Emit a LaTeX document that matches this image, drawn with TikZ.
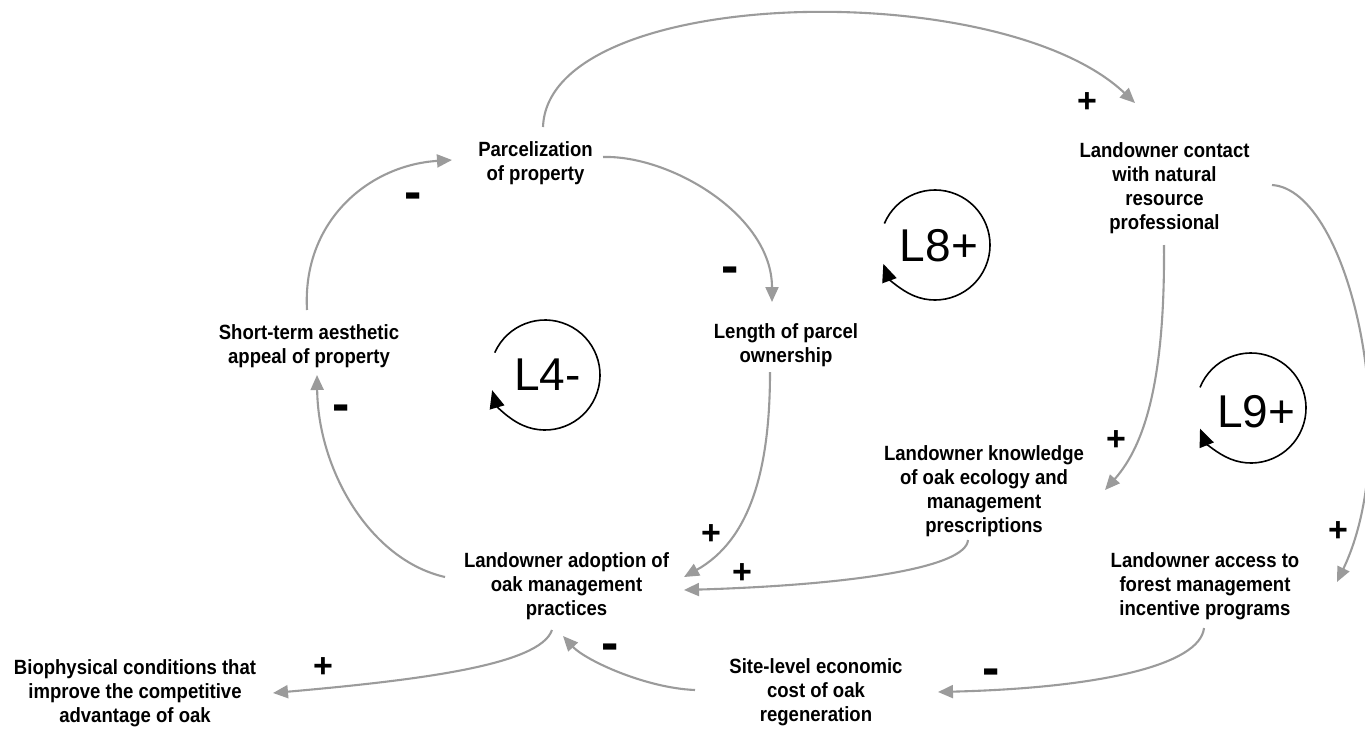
\documentclass[tikz,border=0pt]{standalone}
\usepackage{fontspec}
\setmainfont{Liberation Sans}
\newfontfamily\varfont{Liberation Sans}[FakeStretch=0.9]
\usetikzlibrary{arrows.meta,calc}
\definecolor{linkgray}{RGB}{155,155,155}
\begin{document}
\begin{tikzpicture}[x=1pt,y=-1pt,
  var/.style={font=\varfont\fontsize{20.6}{24}\selectfont\bfseries,align=center,inner sep=0pt},
  link/.style={draw=linkgray,line width=2.1pt,-{Triangle[length=15pt,width=13pt]}},
  plus/.style={font=\fontsize{34}{34}\selectfont\bfseries,inner sep=0pt},
  minus/.style={font=\fontsize{52}{52}\selectfont\bfseries,inner sep=0pt},
  loopname/.style={font=\fontsize{46}{46}\selectfont,inner sep=0pt},
  looparc/.style={draw=black,line width=1.6pt,-{Triangle[length=18pt,width=15pt]}}]
\useasboundingbox (0,0) rectangle (1365,728);

% variables
\node[var] (parc) at (535.5,163.5) {Parcelization\\of property};
\node[var] (contact) at (1164.5,188) {Landowner contact\\with natural\\resource\\professional};
\node[var] (short) at (309,346) {Short-term aesthetic\\appeal of property};
\node[var] (length) at (786,345) {Length of parcel\\ownership};
\node[var] (know) at (984,491.5) {Landowner knowledge\\of oak ecology and\\management\\prescriptions};
\node[var] (adopt) at (566.5,586) {Landowner adoption of\\oak management\\practices};
\node[var] (access) at (1205,586) {Landowner access to\\forest management\\incentive programs};
\node[var] (bio) at (135,693) {Biophysical conditions that\\improve the competitive\\advantage of oak};
\node[var] (site) at (816,692) {Site-level economic\\cost of oak\\regeneration};

% links
\draw[link] ($(parc)+(7.5,-36.5)$) .. controls (548,-15) and (1000,-25) .. ($(contact)+(-29.5,-85)$);
\draw[link] ($(parc)+(67.5,-6.5)$) .. controls (670,155) and (772,215) .. ($(length)+(-14,-43)$);
\draw[link] ($(short)+(-2,-36)$) .. controls (302,220) and (370,165) .. ($(parc)+(-83.5,-3.5)$);
\draw[link] ($(adopt)+(-121.5,-9)$) .. controls (370,560) and (318,470) .. ($(short)+(8,29)$);
\draw[link] ($(length)+(-16,27)$) .. controls (770,470) and (750,540) .. ($(adopt)+(117.5,-9)$);
\draw[link] ($(know)+(-16,48.5)$) .. controls (966,568) and (850,585) .. ($(adopt)+(117.5,4)$);
\draw[link] ($(contact)+(-0.5,57)$) .. controls (1165,380) and (1145,445) .. ($(know)+(121,-1.5)$);
\draw[link] ($(contact)+(107.5,-3)$) .. controls (1350,190) and (1405,440) .. ($(access)+(132,-4)$);
\draw[link] ($(access)+(-1,42)$) .. controls (1200,665) and (1100,688) .. ($(site)+(122,0)$);
\draw[link] ($(site)+(-121,-2)$) .. controls (645,688) and (585,660) .. ($(adopt)+(-3.5,50)$);
\draw[link] ($(adopt)+(-14.5,44)$) .. controls (540,665) and (420,680) .. ($(bio)+(138,0)$);

% polarity signs
\node[plus] (sA) at (1087,102.5) {+};
\node[minus] (sB) at (730,275) {-};
\node[minus] (sC) at (413.5,201.5) {-};
\node[minus] (sD) at (341.5,413) {-};
\node[plus] (sE) at (711,535) {+};
\node[plus] (sF) at (742,574) {+};
\node[plus] (sG) at (1116,441) {+};
\node[plus] (sH) at (1338,532) {+};
\node[minus] (sI) at (991,677) {-};
\node[minus] (sJ) at (610,652.5) {-};
\node[plus] (sK) at (323,668) {+};

% loop markers
\coordinate (c8) at (935,245);
\coordinate (c4) at (545,375);
\coordinate (c9) at (1251,408);
\node[loopname] (l8) at (939,245.5) {L8+};
\node[loopname] (l4) at (547.5,374.5) {L4-};
\node[loopname] (l9) at (1256,411.5) {L9+};
\draw[looparc] ($(c8)+(-157:55)$) arc[start angle=-157, end angle=160, radius=55];
\draw[looparc] ($(c4)+(-156:55)$) arc[start angle=-156, end angle=164, radius=55];
\draw[looparc] ($(c9)+(-158:55)$) arc[start angle=-158, end angle=158, radius=55];
\end{tikzpicture}
\end{document}
